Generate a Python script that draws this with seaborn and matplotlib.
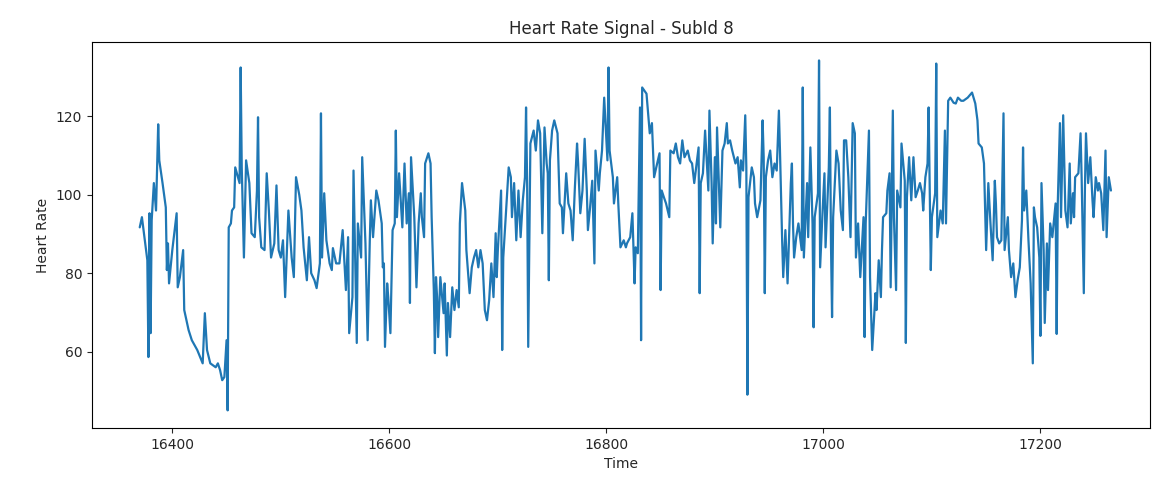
import numpy as np
import pandas as pd
import matplotlib
matplotlib.use("Agg")
import matplotlib.pyplot as plt
import seaborn as sns

time = [
    16370, 16372, 16377, 16378, 16379, 16380, 16381, 16383, 16385, 16387, 16388, 16391,
    16394, 16395, 16396, 16397, 16400, 16404, 16405, 16407, 16410, 16411, 16415, 16418,
    16423, 16428, 16430, 16432, 16435, 16440, 16442, 16444, 16446, 16448, 16450, 16451,
    16452, 16454, 16455, 16457, 16458, 16462, 16463, 16464, 16466, 16468, 16471, 16473,
    16476, 16478, 16479, 16480, 16482, 16485, 16487, 16489, 16491, 16494, 16496, 16498,
    16500, 16502, 16504, 16507, 16510, 16512, 16514, 16517, 16519, 16521, 16524, 16526,
    16528, 16531, 16533, 16536, 16537, 16538, 16540, 16542, 16545, 16547, 16548, 16551,
    16554, 16557, 16559, 16560, 16562, 16563, 16566, 16567, 16569, 16570, 16571, 16574,
    16575, 16578, 16580, 16582, 16583, 16585, 16588, 16590, 16593, 16594, 16595, 16596,
    16598, 16599, 16601, 16603, 16605, 16606, 16607, 16609, 16612, 16614, 16616, 16618,
    16619, 16620, 16622, 16623, 16625, 16627, 16629, 16630, 16632, 16633, 16636, 16638,
    16639, 16641, 16642, 16643, 16644, 16645, 16647, 16650, 16651, 16653, 16654, 16656,
    16658, 16660, 16662, 16664, 16665, 16667, 16670, 16671, 16674, 16676, 16678, 16680,
    16682, 16684, 16686, 16688, 16690, 16692, 16694, 16696, 16698, 16699, 16700, 16703,
    16704, 16705, 16710, 16712, 16713, 16715, 16717, 16719, 16721, 16723, 16725, 16726,
    16727, 16728, 16730, 16733, 16735, 16737, 16739, 16741, 16743, 16745, 16746, 16747,
    16748, 16750, 16752, 16755, 16757, 16759, 16760, 16763, 16765, 16767, 16769, 16771,
    16773, 16774, 16776, 16778, 16780, 16782, 16783, 16785, 16787, 16789, 16790, 16793,
    16794, 16796, 16798, 16801, 16802, 16803, 16806, 16807, 16810, 16811, 16813, 16816,
    16818, 16819, 16822, 16824, 16826, 16827, 16829, 16831, 16832, 16833, 16837, 16840,
    16842, 16844, 16846, 16849, 16850, 16851, 16853, 16855, 16858, 16859, 16862, 16864,
    16866, 16868, 16870, 16872, 16875, 16877, 16879, 16881, 16885, 16886, 16887, 16889,
    16891, 16894, 16895, 16897, 16898, 16900, 16901, 16902, 16905, 16907, 16909, 16911,
    16912, 16914, 16916, 16919, 16921, 16923, 16924, 16926, 16928, 16929, 16930, 16931,
    16934, 16936, 16937, 16939, 16942, 16944, 16945, 16946, 16947, 16949, 16951, 16953,
    16955, 16957, 16959, 16960, 16962, 16963, 16965, 16967, 16970, 16971, 16972, 16973,
    16975, 16977, 16980, 16981, 16982, 16984, 16985, 16986, 16988, 16990, 16991, 16992,
    16995, 16996, 16997, 16999, 17001, 17002, 17005, 17006, 17007, 17008, 17009, 17012,
    17014, 17016, 17018, 17019, 17021, 17023, 17025, 17027, 17029, 17030, 17032, 17034,
    17037, 17038, 17039, 17042, 17043, 17045, 17048, 17049, 17051, 17053, 17054, 17055,
    17058, 17059, 17061, 17062, 17064, 17065, 17067, 17068, 17071, 17072, 17075, 17076,
    17077, 17079, 17081, 17083, 17085, 17087, 17089, 17091, 17092, 17094, 17096, 17097,
    17099, 17100, 17103, 17104, 17105, 17108, 17110, 17112, 17113, 17115, 17117, 17120,
    17122, 17124, 17127, 17129, 17133, 17136, 17137, 17140, 17142, 17143, 17146, 17148,
    17150, 17152, 17154, 17156, 17158, 17159, 17160, 17162, 17164, 17166, 17167, 17170,
    17171, 17173, 17175, 17177, 17179, 17181, 17183, 17184, 17185, 17187, 17189, 17191,
    17193, 17194, 17195, 17197, 17199, 17200, 17201, 17203, 17204, 17206, 17207, 17209,
    17211, 17214, 17215, 17216, 17218, 17219, 17221, 17223, 17225, 17227, 17228, 17230,
    17231, 17232, 17235, 17237, 17238, 17240, 17241, 17242, 17244, 17246, 17248, 17249,
    17251, 17253, 17254, 17256, 17258, 17260, 17261, 17263, 17265,
]

heart_rate = [
    91.7, 94.3, 83.3, 58.6, 95.3, 64.7, 93.5, 103.0, 96.0, 118.0, 108.8, 103.0,
    96.8, 80.8, 87.6, 77.4, 85.9, 95.3, 76.4, 79.0, 85.9, 70.6, 65.5, 62.9,
    60.4, 57.0, 69.8, 60.4, 57.0, 56.0, 57.0, 55.3, 52.7, 53.5, 62.9, 45.0,
    91.7, 92.7, 96.0, 96.8, 107.0, 103.0, 132.5, 107.0, 84.0, 108.8, 103.0, 90.2,
    89.2, 101.0, 119.8, 94.3, 86.6, 85.9, 105.5, 96.0, 84.0, 87.6, 102.4, 85.9,
    84.0, 88.4, 73.9, 96.0, 84.0, 79.0, 104.5, 100.0, 96.0, 86.6, 78.2, 89.2,
    80.0, 78.2, 76.2, 82.5, 120.8, 84.0, 100.4, 88.4, 82.5, 80.8, 86.4, 82.5,
    82.5, 91.0, 80.8, 75.7, 89.2, 64.7, 73.9, 106.2, 77.4, 62.2, 92.7, 84.0,
    109.6, 87.6, 62.9, 88.4, 98.6, 89.2, 101.1, 98.6, 92.7, 81.5, 82.5, 61.2,
    77.4, 73.9, 64.7, 91.0, 92.7, 116.4, 94.3, 105.5, 91.7, 108.0, 92.7, 100.4,
    72.4, 109.6, 99.4, 94.3, 76.4, 92.7, 100.4, 94.3, 89.2, 108.0, 110.6, 108.0,
    94.3, 75.7, 59.6, 79.0, 73.9, 63.7, 79.0, 69.8, 77.4, 59.0, 72.4, 63.7,
    76.4, 70.6, 75.7, 71.3, 92.7, 103.0, 96.0, 85.9, 74.9, 81.5, 84.0, 85.9,
    81.5, 85.9, 82.5, 70.6, 68.0, 73.1, 82.5, 73.9, 90.2, 79.0, 85.9, 101.1,
    60.4, 84.0, 107.0, 104.5, 94.3, 103.0, 88.4, 101.1, 89.2, 98.6, 104.5, 122.3,
    103.0, 61.2, 113.1, 116.4, 111.3, 119.0, 115.7, 90.2, 117.2, 108.0, 105.5, 78.2,
    108.8, 116.4, 119.0, 115.7, 97.8, 96.8, 90.2, 105.5, 97.8, 96.0, 88.4, 101.9,
    113.1, 108.0, 95.3, 101.1, 114.3, 101.1, 91.0, 96.8, 103.6, 82.5, 111.3, 101.1,
    105.5, 111.3, 124.8, 108.8, 132.5, 111.3, 104.5, 97.8, 104.5, 97.8, 86.6, 88.4,
    86.6, 87.6, 89.2, 95.3, 77.4, 86.6, 85.1, 122.3, 62.9, 127.4, 125.8, 115.7,
    118.3, 104.5, 107.0, 110.6, 75.7, 101.1, 99.4, 97.8, 94.3, 111.3, 110.6, 113.1,
    109.6, 108.0, 113.9, 109.6, 111.3, 108.8, 108.0, 103.0, 112.1, 74.9, 103.0, 105.5,
    116.4, 101.1, 121.5, 103.0, 87.6, 109.6, 92.7, 117.2, 91.7, 111.3, 113.1, 118.3,
    113.1, 113.9, 111.3, 108.0, 109.6, 101.9, 108.8, 106.2, 120.3, 107.0, 49.0, 99.4,
    107.0, 104.5, 97.8, 94.3, 98.6, 119.0, 109.6, 74.9, 104.5, 108.8, 111.3, 104.5,
    108.0, 106.2, 121.5, 111.3, 88.4, 79.0, 91.0, 77.4, 103.0, 108.0, 92.7, 84.0,
    89.2, 92.7, 85.9, 127.4, 84.0, 96.8, 103.0, 89.2, 112.1, 92.7, 66.2, 94.3,
    100.4, 134.3, 81.5, 94.3, 105.5, 86.6, 107.0, 122.3, 87.6, 68.8, 94.3, 111.3,
    108.0, 96.0, 91.0, 113.9, 113.9, 104.5, 89.2, 118.3, 115.7, 84.0, 92.7, 79.0,
    94.3, 63.7, 92.7, 116.4, 79.0, 60.4, 74.9, 70.6, 83.3, 73.9, 85.9, 94.3,
    95.3, 101.1, 105.5, 76.4, 121.5, 94.3, 75.7, 101.1, 96.8, 113.1, 103.6, 62.2,
    99.4, 109.6, 98.6, 109.6, 99.4, 101.1, 103.0, 100.4, 96.0, 104.5, 108.0, 122.3,
    80.8, 94.3, 100.4, 133.5, 89.2, 96.0, 92.7, 116.4, 92.7, 124.0, 124.8, 123.5,
    123.3, 124.8, 124.0, 124.0, 124.8, 125.8, 126.1, 123.3, 119.0, 113.1, 112.1, 108.0,
    85.9, 103.0, 92.7, 83.3, 103.6, 97.8, 89.2, 87.6, 88.4, 120.8, 85.9, 94.3,
    85.9, 79.0, 82.5, 73.9, 78.2, 81.5, 93.5, 112.1, 96.0, 101.1, 88.4, 77.4,
    57.0, 96.8, 94.3, 91.7, 84.0, 64.0, 103.0, 85.9, 67.3, 87.6, 75.7, 92.7,
    89.2, 97.8, 64.5, 97.8, 118.3, 94.3, 120.3, 96.0, 91.7, 108.0, 92.7, 100.4,
    94.3, 104.5, 105.5, 115.7, 104.5, 74.9, 101.1, 115.7, 103.0, 109.6, 98.6, 94.3,
    104.5, 101.1, 103.0, 100.4, 91.0, 111.3, 89.2, 104.5, 101.1,
]

df = pd.DataFrame({"Time": time, "Heart Rate": heart_rate})

sns.set_style("ticks")
plt.rcParams["font.family"] = ["DejaVu Sans"]

fig = plt.figure(figsize=(11.54, 4.82), dpi=100)
ax = fig.add_axes([92 / 1154, 1 - 428 / 482, (1150 - 92) / 1154, (428 - 42) / 482])

sns.lineplot(data=df, x="Time", y="Heart Rate", ax=ax, color="#1f77b4",
             linewidth=1.6, estimator=None)

ax.set_xlim(16326, 17301)
ax.set_ylim(40.5, 139)
ax.set_xticks([16400, 16600, 16800, 17000, 17200])
ax.set_yticks([60, 80, 100, 120])
ax.set_title("Heart Rate Signal - SubId 8", fontsize=12)
ax.set_xlabel("Time", fontsize=10)
ax.set_ylabel("Heart Rate", fontsize=10)
ax.tick_params(labelsize=10)
for s in ax.spines.values():
    s.set_visible(True)
    s.set_color("black")
    s.set_linewidth(0.8)

fig.savefig("out.png", dpi=100)
